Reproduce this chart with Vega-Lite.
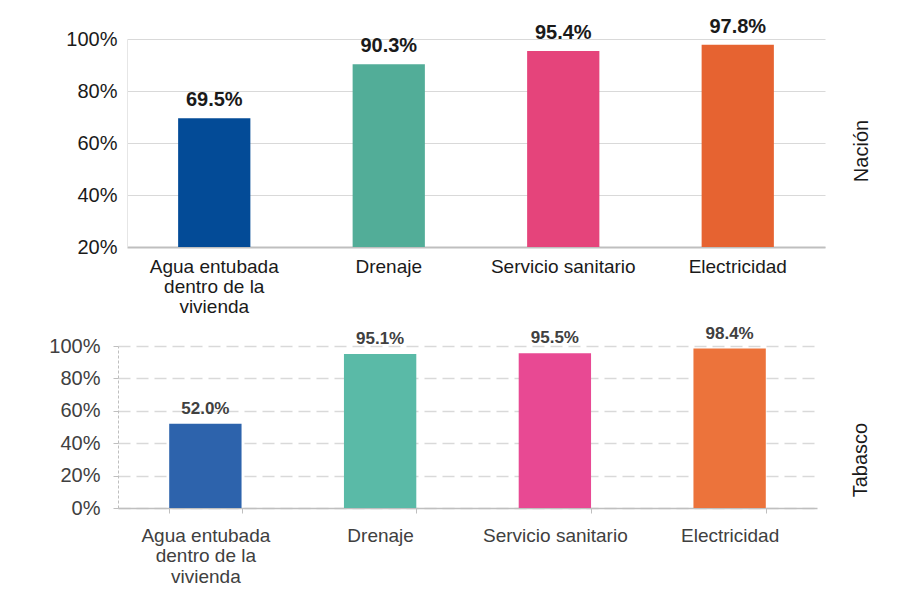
{
  "$schema": "https://vega.github.io/schema/vega-lite/v6.json",
  "background": "white",
  "padding": {"left": 9, "top": 16, "right": 5, "bottom": 0},
  "config": {"view": {"stroke": null}, "font": "Liberation Sans"},
  "datasets": {
    "nacion": [
      {"servicio": "Agua entubada dentro de la vivienda", "valor": 0.695},
      {"servicio": "Drenaje", "valor": 0.903},
      {"servicio": "Servicio sanitario", "valor": 0.954},
      {"servicio": "Electricidad", "valor": 0.978}
    ],
    "tabasco": [
      {"servicio": "Agua entubada dentro de la vivienda", "valor": 0.520},
      {"servicio": "Drenaje", "valor": 0.951},
      {"servicio": "Servicio sanitario", "valor": 0.955},
      {"servicio": "Electricidad", "valor": 0.984}
    ],
    "vacio": []
  },
  "spacing": 8,
  "resolve": {"scale": {"color": "independent"}},
  "vconcat": [
    {
      "spacing": 0,
      "hconcat": [
        {"width": 1, "height": 10, "data": {"name": "vacio"}, "mark": "point"},
        {
          "width": 698,
          "height": 208,
          "data": {"name": "nacion"},
          "title": {"text": "Nación", "orient": "right", "angle": -90, "frame": "group", "anchor": "middle", "offset": 7, "dx": -8, "fontSize": 20, "fontWeight": "normal", "color": "#1a1a1a"},
          "encoding": {
            "x": {
              "field": "servicio", "type": "nominal", "sort": null,
              "scale": {"paddingInner": 0.586, "paddingOuter": 0.293},
              "axis": {
                "title": null, "labelAngle": 0, "labelFontSize": 19, "labelColor": "#1a1a1a",
                "labelLineHeight": 20, "labelPadding": 10, "ticks": false, "labelLimit": 300,
                "domainColor": "#BFBFBF", "domainWidth": 2,
                "labelExpr": "datum.label == 'Agua entubada dentro de la vivienda' ? ['Agua entubada', 'dentro de la', 'vivienda'] : datum.label"
              }
            },
            "y": {
              "field": "valor", "type": "quantitative",
              "scale": {"domain": [0.2, 1]},
              "axis": {
                "title": null, "values": [0.2, 0.4, 0.6, 0.8, 1], "format": ".0%",
                "labelFontSize": 20, "labelColor": "#1a1a1a", "labelPadding": 10, "ticks": false,
                "domainColor": "#E6E6E6", "gridColor": "#D9D9D9", "minExtent": 117
              }
            }
          },
          "layer": [
            {
              "mark": {"type": "bar", "clip": true},
              "encoding": {
                "color": {
                  "field": "servicio", "type": "nominal", "legend": null,
                  "scale": {
                    "domain": ["Agua entubada dentro de la vivienda", "Drenaje", "Servicio sanitario", "Electricidad"],
                    "range": ["#034B97", "#52AD98", "#E5447B", "#E66331"]
                  }
                }
              }
            },
            {
              "mark": {"type": "text", "baseline": "alphabetic", "dy": -12, "fontSize": 20, "fontWeight": "bold", "color": "#1a1a1a"},
              "encoding": {"text": {"field": "valor", "type": "quantitative", "format": ".1%"}}
            }
          ]
        }
      ]
    },
    {
      "spacing": 0,
      "hconcat": [
        {"width": 1, "height": 10, "data": {"name": "vacio"}, "mark": "point"},
        {
          "width": 699,
          "height": 162,
          "data": {"name": "tabasco"},
          "title": {"text": "Tabasco", "orient": "right", "angle": -90, "frame": "group", "anchor": "middle", "offset": 14, "dx": -33, "fontSize": 20, "fontWeight": "normal", "color": "#1a1a1a"},
          "encoding": {
            "x": {
              "field": "servicio", "type": "nominal", "sort": null,
              "scale": {"paddingInner": 0.586, "paddingOuter": 0.293},
              "axis": {
                "title": null, "labelAngle": 0, "labelFontSize": 19, "labelColor": "#404040",
                "labelLineHeight": 20.5, "labelPadding": 13, "ticks": true, "tickBand": "extent",
                "tickSize": 5, "tickColor": "#BFBFBF", "labelLimit": 300,
                "domainColor": "#BFBFBF", "domainWidth": 1.5,
                "labelExpr": "datum.label == 'Agua entubada dentro de la vivienda' ? ['Agua entubada', 'dentro de la', 'vivienda'] : datum.label"
              }
            },
            "y": {
              "field": "valor", "type": "quantitative",
              "scale": {"domain": [0, 1]},
              "axis": {
                "title": null, "values": [0, 0.2, 0.4, 0.6, 0.8, 1], "format": ".0%",
                "labelFontSize": 20, "labelColor": "#404040", "labelPadding": 13,
                "tickSize": 5, "tickColor": "#BFBFBF",
                "domainColor": "#BFBFBF", "domainDash": [3, 2],
                "gridColor": "#D9D9D9", "gridDash": [12, 6], "gridWidth": 1.5, "minExtent": 108
              }
            }
          },
          "layer": [
            {
              "mark": {"type": "bar"},
              "encoding": {
                "color": {
                  "field": "servicio", "type": "nominal", "legend": null,
                  "scale": {
                    "domain": ["Agua entubada dentro de la vivienda", "Drenaje", "Servicio sanitario", "Electricidad"],
                    "range": ["#2D63AC", "#5ABAA7", "#E84993", "#EC733B"]
                  }
                }
              }
            },
            {
              "mark": {"type": "text", "baseline": "alphabetic", "dy": -10, "fontSize": 17, "fontWeight": "bold", "color": "#404040"},
              "encoding": {"text": {"field": "valor", "type": "quantitative", "format": ".1%"}}
            }
          ]
        }
      ]
    }
  ]
}
